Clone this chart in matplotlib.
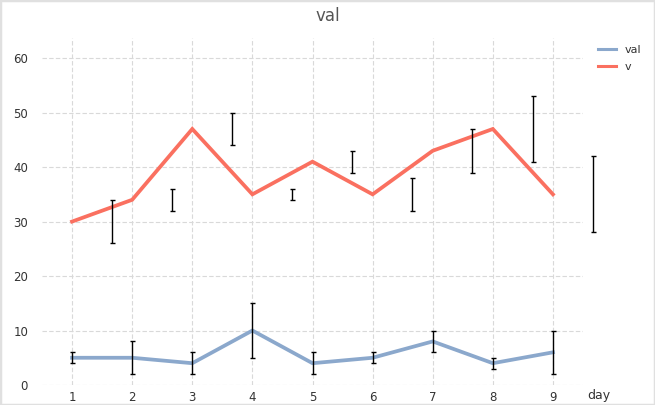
#!/usr/bin/env python3
"""Line chart of val / v per day with error bars, saved as out.png."""
import numpy as np
import matplotlib
matplotlib.use("Agg")
import matplotlib.pyplot as plt
from matplotlib.patches import Rectangle

# data
days = [1, 2, 3, 4, 5, 6, 7, 8, 9]
val = [5, 5, 4, 10, 4, 5, 8, 4, 6]
val_low = [4, 2, 2, 5, 2, 4, 6, 3, 2]
val_high = [6, 8, 6, 15, 6, 6, 10, 5, 10]
v = [30, 34, 47, 35, 41, 35, 43, 47, 35]
v_low = [26, 32, 44, 34, 39, 32, 39, 41, 28]
v_high = [34, 36, 50, 36, 43, 38, 47, 53, 42]
y_ticks = [0, 10, 20, 30, 40, 50, 60]

COLORS = {"val": "#8ba8cc", "v": "#fa7060"}
V_ERR_SHIFT = 0.66   # the v error bars sit off the day positions in the original

fig = plt.figure(figsize=(6.55, 4.05), dpi=100)
ax = fig.add_axes([42 / 655, 20 / 405, 541 / 655, 347 / 405])

x = np.array(days, dtype=float)
ax.plot(x, val, color=COLORS["val"], lw=2.7, label="val", zorder=3,
        solid_joinstyle="miter")
ax.plot(x, v, color=COLORS["v"], lw=2.7, label="v", zorder=3,
        solid_joinstyle="miter")


def err(xs, mid, lo, hi):
    mid = np.array(mid, dtype=float)
    yerr = [mid - np.array(lo), np.array(hi) - mid]
    _, caps, bars = ax.errorbar(xs, mid, yerr=yerr, fmt="none", ecolor="black",
                                elinewidth=1.0, capsize=1.8, capthick=1.0,
                                zorder=4)
    for a in list(caps) + list(bars):
        a.set_clip_on(False)


err(x, val, val_low, val_high)
err(x + V_ERR_SHIFT, v, v_low, v_high)

ax.set_xlim(0.5, 9.5)
ax.set_ylim(0, 63.7)
ax.set_xticks(days)
ax.set_yticks(y_ticks)
ax.tick_params(length=0, labelsize=8.5, labelcolor="#333333")
ax.tick_params(axis="x", pad=4)
ax.tick_params(axis="y", pad=10)
ax.grid(True, color="#d9d9d9", ls=(0, (4, 2)), lw=0.8)
for s in ax.spines.values():
    s.set_visible(False)

fig.text(587 / 655, 1 - 395 / 405, "day", fontsize=9, color="#333333",
         ha="left", va="center")
fig.text(0.5, 1 - 16 / 405, "val", fontsize=12, color="#555555",
         ha="center", va="center")

leg = ax.legend(loc="upper left", bbox_to_anchor=(598 / 655, 1 - 45 / 405),
                bbox_transform=fig.transFigure, frameon=False, fontsize=8,
                handlelength=1.6, handletextpad=0.8, labelspacing=0.6,
                labelcolor="#333333", borderaxespad=0, borderpad=0)
for h in leg.legend_handles:
    h.set_linewidth(2.2)

fig.patches.append(Rectangle((0, 0), 1, 1, transform=fig.transFigure,
                             fill=False, edgecolor="#e0e0e0", lw=2.5))

fig.savefig("out.png", dpi=100)
